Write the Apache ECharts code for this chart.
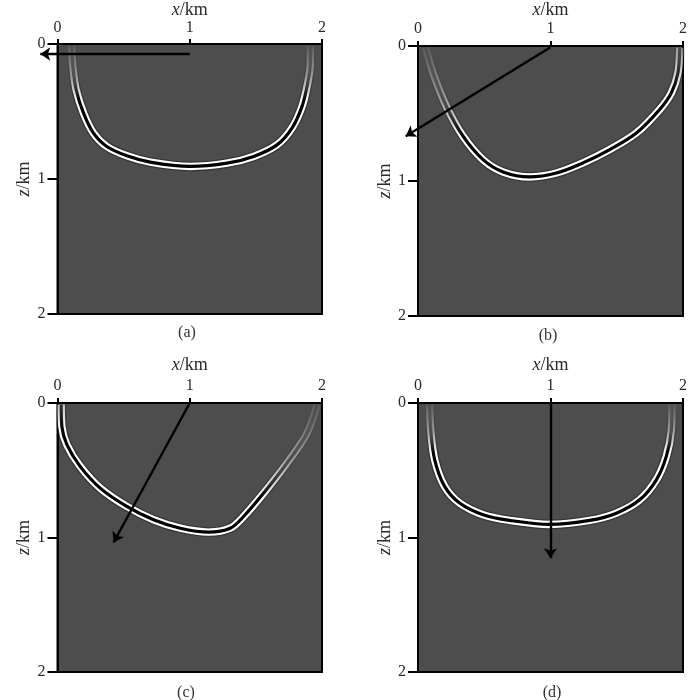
<!DOCTYPE html>
<html>
<head>
<meta charset="utf-8">
<style>html,body{margin:0;padding:0;background:#fff}#c{width:700px;height:700px}</style>
<script src="https://cdn.jsdelivr.net/npm/echarts@6/dist/echarts.min.js"></script>
</head>
<body>
<div id="c"></div>
<script>
// Wavefront curves: [x km, z km]
const curveA = [[0.108,0.017],[0.116,0.166],[0.141,0.339],[0.197,0.512],[0.272,0.660],[0.373,0.759],[0.525,0.828],[0.701,0.875],[1.004,0.907],[1.281,0.883],[1.483,0.833],[1.660,0.747],[1.773,0.623],[1.849,0.462],[1.892,0.289],[1.912,0.141],[1.912,0.017]];
const curveB = [[0.058,0.012],[0.113,0.198],[0.214,0.446],[0.340,0.668],[0.491,0.842],[0.642,0.933],[0.843,0.970],[1.044,0.941],[1.245,0.866],[1.447,0.767],[1.648,0.644],[1.824,0.470],[1.912,0.347],[1.962,0.198],[1.975,0.012]];
const curveC = [[0.028,0.012],[0.033,0.174],[0.071,0.310],[0.171,0.471],[0.323,0.633],[0.524,0.769],[0.726,0.868],[0.928,0.931],[1.142,0.960],[1.306,0.931],[1.407,0.844],[1.559,0.670],[1.735,0.447],[1.874,0.248],[1.937,0.099],[1.962,0.012]];
const curveD = [[0.088,0.012],[0.096,0.199],[0.126,0.422],[0.201,0.620],[0.314,0.744],[0.491,0.831],[0.692,0.873],[0.994,0.903],[1.296,0.873],[1.497,0.819],[1.673,0.720],[1.799,0.571],[1.874,0.397],[1.912,0.199],[1.917,0.012]];
// Source-direction arrows: [start, tip]
const arrowA = [[1,0.074],[-0.13,0.074]];
const arrowB = [[1,0.01],[-0.093,0.668]];
const arrowC = [[1,0],[0.424,1.037]];
const arrowD = [[1,0],[1,1.154]];
const xTicks = ['0','1','2'];
const zTicks = ['0','1','2'];
const captions = ['(a)','(b)','(c)','(d)'];

const FONT = '"Liberation Serif","DejaVu Serif",serif';
const panels = [
  {curve:curveA, arrow:arrowA, left:57.5, top:44,  w:264.5, h:270, capX:182, capY:320, nameGap:25, labelGap:8, fade:[0,0,0,0.45]},
  {curve:curveB, arrow:arrowB, left:418,  top:46,  w:265,   h:270, capX:543, capY:323, nameGap:27, labelGap:9, fade:[0,0,0.08,0.71]},
  {curve:curveC, arrow:arrowC, left:57.5, top:403, w:264.5, h:269, capX:181, capY:680, nameGap:29, labelGap:9, fade:[0.108,-0.61,-0.032,0.18]},
  {curve:curveD, arrow:arrowD, left:418,  top:403, w:265,   h:269, capX:547, capY:680, nameGap:29, labelGap:9, fade:[0,0,0,0.4]}
];
const grad = (f, rgb, a0, a1) => ({type:'linear',x:f[0],y:f[1],x2:f[2],y2:f[3],colorStops:[
  {offset:0,color:`rgba(${rgb},${a0})`},
  {offset:0.6,color:`rgba(${rgb},${a0+(a1-a0)*0.45})`},
  {offset:1,color:`rgba(${rgb},${a1})`}]});
const TXT = '#2a2a2a';
const richName = {i:{fontFamily:FONT,fontStyle:'italic',fontSize:18,color:TXT},n:{fontFamily:FONT,fontSize:18,color:TXT}};

const grids=[], xAxes=[], yAxes=[], series=[], titles=[];
panels.forEach((p,i)=>{
  grids.push({left:p.left,top:p.top,width:p.w,height:p.h,show:true,backgroundColor:'#4d4d4d',borderColor:'#000',borderWidth:2,outerBoundsMode:'none'});
  xAxes.push({gridIndex:i,type:'value',position:'top',min:0,max:2,interval:1,
    name:'{i|x}{n|/km}',nameLocation:'middle',nameGap:p.nameGap,nameTextStyle:{rich:richName},
    axisLine:{show:true,lineStyle:{color:'#000',width:2}},
    axisTick:{show:true,length:5,lineStyle:{color:'#000',width:2}},
    axisLabel:{margin:p.labelGap,fontFamily:FONT,fontSize:16,color:TXT,formatter:v=>xTicks[v]},
    splitLine:{show:false}});
  yAxes.push({gridIndex:i,type:'value',inverse:true,min:0,max:2,interval:1,
    name:'{i|z}{n|/km}',nameLocation:'middle',nameGap:24,nameRotate:90,nameTextStyle:{rich:richName},
    axisLine:{show:true,lineStyle:{color:'#000',width:2}},
    axisTick:{show:true,length:10,lineStyle:{color:'#000',width:2}},
    axisLabel:{margin:12,fontFamily:FONT,fontSize:16,color:TXT,formatter:v=>zTicks[v]},
    splitLine:{show:false}});

  const stroke=(color,width)=>series.push({type:'line',xAxisIndex:i,yAxisIndex:i,data:p.curve,smooth:0.33,smoothConstraint:false,
    showSymbol:false,symbol:'none',silent:true,lineStyle:{color,width,cap:'butt',join:'round'},z:3});
  stroke(grad(p.fade,'25,25,25',0,0.45),10);
  stroke(grad(p.fade,'255,255,255',0.06,1),7.4);
  stroke(grad(p.fade,'0,0,0',0.12,1),3.2);

  series.push({type:'lines',coordinateSystem:'cartesian2d',xAxisIndex:i,yAxisIndex:i,clip:false,silent:true,z:6,
    symbol:['none','arrow'],symbolSize:10,lineStyle:{color:'#000',width:2.4,opacity:1,curveness:0},
    data:[{coords:p.arrow}]});

  titles.push({text:captions[i],left:p.capX,top:p.capY,textAlign:'center',
    textStyle:{fontFamily:FONT,fontSize:16,fontWeight:'normal',color:'#333'}});
});
const chart=echarts.init(document.getElementById('c'),null,{renderer:'canvas'});
chart.setOption({animation:false,backgroundColor:'#fff',title:titles,grid:grids,xAxis:xAxes,yAxis:yAxes,series});
</script>
</body>
</html>
